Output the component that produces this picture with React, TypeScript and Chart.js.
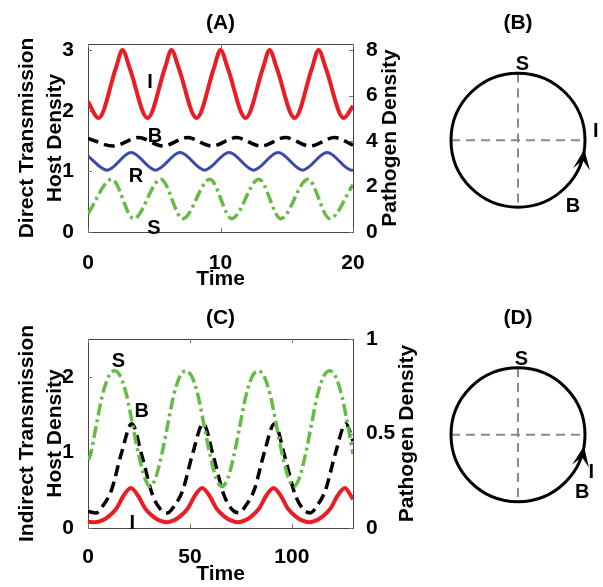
import React, { useEffect, useRef } from 'react';
import { Chart, registerables } from 'chart.js';

Chart.register(...registerables);

const FONT = "'Liberation Sans', Arial, Helvetica, sans-serif";

// ---------- Panel A: direct transmission ----------
const A_TIME_TICKS = [0, 10, 20];
const A_HOST_TICKS = [0, 1, 2, 3];
const A_PATHOGEN_TICKS = [0, 2, 4, 6, 8];

const A_I: [number, number][] = [
  [0, 2.15], [0.8, 1.88], [2.1, 2.7], [2.6, 3.0], [3.15, 2.7], [4.5, 1.88],
  [5.8, 2.7], [6.3, 3.0], [6.85, 2.7], [8.2, 1.88], [9.5, 2.7], [10.0, 3.0],
  [10.55, 2.7], [11.9, 1.88], [13.2, 2.7], [13.7, 3.0], [14.25, 2.7], [15.6, 1.88],
  [16.9, 2.7], [17.4, 3.0], [17.95, 2.7], [19.3, 1.88], [20, 2.08],
];
const A_R: [number, number][] = [
  [0, 1.25], [1.45, 1.02], [3.25, 1.31], [5.1, 1.02], [6.95, 1.31], [8.8, 1.02],
  [10.65, 1.31], [12.5, 1.02], [14.35, 1.31], [16.2, 1.02], [18.05, 1.31], [19.9, 1.02], [20, 1.02],
];
const A_S: [number, number][] = [
  [0, 0.3], [1.8, 0.87], [3.45, 0.22], [5.5, 0.87], [7.15, 0.22], [9.2, 0.87],
  [10.85, 0.22], [12.9, 0.87], [14.55, 0.22], [16.6, 0.87], [18.25, 0.22], [20, 0.78],
];
// pathogen density (right axis)
const A_B: [number, number][] = [
  [0, 4.12], [1.9, 3.78], [3.8, 4.15], [5.65, 3.78], [7.5, 4.15], [9.35, 3.78],
  [11.2, 4.15], [13.05, 3.78], [14.9, 4.15], [16.75, 3.78], [18.6, 4.15], [20, 3.82],
];
const A_LABELS = [
  { text: 'I', x: 4.68, y: 2.46 },
  { text: 'B', x: 5.06, y: 1.57 },
  { text: 'R', x: 3.62, y: 0.91 },
  { text: 'S', x: 4.98, y: 0.05 },
];

// ---------- Panel C: indirect transmission ----------
const C_TIME_TICKS = [0, 50, 100];
const C_HOST_TICKS = [0, 1, 2];
const C_PATHOGEN_TICKS = [0, 0.5, 1];

const C_S: [number, number][] = [
  [0, 0.9], [1, 0.95], [4, 1.35], [7, 1.75], [10, 2.0], [13, 2.08], [16, 2.0], [19, 1.75],
  [22, 1.35], [25, 0.95], [28, 0.65], [30.5, 0.55], [33, 0.65], [36, 0.95], [39, 1.35],
  [42, 1.75], [45, 2.0], [48, 2.08], [51, 2.0], [54, 1.75], [57, 1.35], [60, 0.95],
  [63, 0.65], [65.75, 0.55], [68.5, 0.65], [71.5, 0.95], [74.5, 1.35], [77.5, 1.75],
  [80.5, 2.0], [83.5, 2.08], [86.5, 2.0], [89.5, 1.75], [92.5, 1.35], [95.5, 0.95],
  [98.5, 0.65], [101, 0.55], [103.5, 0.65], [106.5, 0.95], [109.5, 1.35], [112.5, 1.75],
  [115.5, 2.0], [118.5, 2.08], [121.5, 2.0], [124.5, 1.75], [127.5, 1.35], [130, 0.98],
];
const C_I: [number, number][] = [
  [0, 0.08], [3.5, 0.075], [7, 0.1], [10, 0.15], [14, 0.26], [17.5, 0.43], [21, 0.53],
  [24.5, 0.43], [28, 0.26], [32, 0.15], [35, 0.1], [38.5, 0.075], [42, 0.1], [45, 0.15],
  [49, 0.26], [52.5, 0.43], [56, 0.53], [59.5, 0.43], [63, 0.26], [67, 0.15], [70, 0.1],
  [73.5, 0.075], [77, 0.1], [80, 0.15], [84, 0.26], [87.5, 0.43], [91, 0.53], [94.5, 0.43],
  [98, 0.26], [102, 0.15], [105, 0.1], [108.5, 0.075], [112, 0.1], [115, 0.15], [119, 0.26],
  [122.5, 0.43], [126, 0.53], [130, 0.38],
];
// pathogen density (right axis)
const C_B: [number, number][] = [
  [0, 0.088], [4, 0.08], [7.5, 0.12], [11.5, 0.2], [16.5, 0.4], [21.5, 0.552], [26.5, 0.38],
  [31.5, 0.18], [35.5, 0.1], [39, 0.08], [42.5, 0.12], [46.5, 0.2], [51.5, 0.4], [56.5, 0.552],
  [61.5, 0.38], [66.5, 0.18], [70.5, 0.1], [74, 0.08], [77.5, 0.12], [81.5, 0.2], [86.5, 0.4],
  [91.5, 0.552], [96.5, 0.38], [101.5, 0.18], [105.5, 0.1], [109, 0.08], [112.5, 0.12],
  [116.5, 0.2], [121.5, 0.4], [126.5, 0.552], [130, 0.46],
];
const C_LABELS = [
  { text: 'S', x: 14.9, y: 2.2 },
  { text: 'B', x: 26.3, y: 1.54 },
  { text: 'I', x: 21.7, y: 0.06 },
];

// ---------- Panels B and D: phase diagrams ----------
const CROSS_H: [number, number][] = [[-1, 0], [1, 0]];
const CROSS_V: [number, number][] = [[0, 1], [0, -1]];
const B_LABELS = [
  { text: 'S', x: 0.066, y: 1.13 },
  { text: 'I', x: 1.16, y: 0.13 },
  { text: 'B', x: 0.82, y: -1.0 },
];
const D_LABELS = [
  { text: 'S', x: 0.05, y: 1.13 },
  { text: 'I', x: 1.095, y: -0.56 },
  { text: 'B', x: 0.96, y: -0.87 },
];

const RED = '#ec1c24';
const BLUE = '#3a4aa6';
const GREEN = '#66bb44';
const BLACK = '#000000';

const pts = (a: [number, number][]) => a.map(([x, y]) => ({ x, y }));

function panelDecor(cfg: any) {
  return {
    id: 'panelDecor',
    afterDraw(chart: any) {
      const { ctx, chartArea: a, scales } = chart;
      ctx.save();
      ctx.strokeStyle = '#444';
      ctx.lineWidth = 1;
      ctx.beginPath();
      ctx.moveTo(a.left, a.top + 0.5);
      ctx.lineTo(a.right, a.top + 0.5);
      ctx.stroke();
      ctx.strokeStyle = '#777';
      Object.values(scales).forEach((s: any) => {
        s.ticks.forEach((t: any) => {
          const p = Math.round(s.getPixelForValue(t.value)) + 0.5;
          ctx.beginPath();
          if (s.axis === 'x') {
            ctx.moveTo(p, a.bottom);
            ctx.lineTo(p, a.bottom - 4);
            ctx.moveTo(p, a.top);
            ctx.lineTo(p, a.top + 4);
          } else if (s.position === 'left') {
            ctx.moveTo(a.left, p);
            ctx.lineTo(a.left + 4, p);
          } else {
            ctx.moveTo(a.right, p);
            ctx.lineTo(a.right - 4, p);
          }
          ctx.stroke();
        });
      });
      // right axis title, reading upward
      ctx.fillStyle = '#000';
      ctx.font = `bold 21px ${FONT}`;
      ctx.textAlign = 'center';
      ctx.textBaseline = 'middle';
      ctx.save();
      ctx.translate(cfg.rightTitleX, (a.top + a.bottom) / 2);
      ctx.rotate(-Math.PI / 2);
      ctx.fillText(cfg.rightTitle, 0, 0);
      ctx.restore();
      // curve labels
      ctx.font = `bold 20px ${FONT}`;
      cfg.labels.forEach((l: any) => {
        ctx.fillText(l.text, scales.x.getPixelForValue(l.x), scales.yHost.getPixelForValue(l.y));
      });
      ctx.restore();
    },
  };
}

function lineConfig(p: any) {
  const tickFont = { size: 21, weight: 'bold' as const, family: FONT };
  const fixTicks = (arr: number[]) => (s: any) => {
    s.ticks = arr.map((v) => ({ value: v }));
  };
  const mk = (label: string, data: [number, number][], color: string, width: number, dash: number[], axis: string) => ({
    label,
    data: pts(data),
    borderColor: color,
    borderWidth: width,
    borderDash: dash,
    pointRadius: 0,
    fill: false,
    cubicInterpolationMode: 'monotone' as const,
    yAxisID: axis,
  });
  return {
    type: 'line' as const,
    data: { datasets: p.series.map((s: any) => mk(s.label, s.data, s.color, s.width, s.dash, s.axis)) },
    options: {
      responsive: false,
      animation: false as const,
      events: [],
      layout: { padding: 0 },
      plugins: {
        legend: { display: false },
        tooltip: { enabled: false },
        title: {
          display: true,
          text: p.title,
          fullSize: false,
          color: '#000',
          font: { size: 21, weight: 'bold' as const, family: FONT, lineHeight: 1.2 },
          padding: { top: p.titleTop, bottom: p.titleBottom },
        },
      },
      scales: {
        x: {
          type: 'linear' as const,
          min: 0,
          max: p.xMax,
          afterBuildTicks: fixTicks(p.xTicks),
          afterFit: (s: any) => { s.height = p.xHeight; },
          grid: { display: false },
          border: { display: true, color: '#444', width: 1 },
          ticks: { font: tickFont, color: '#000', padding: p.xTickPad, maxRotation: 0, autoSkip: false, callback: (v: any) => String(v) },
          title: {
            display: true,
            text: 'Time',
            color: '#000',
            font: { size: 21, weight: 'bold' as const, family: FONT, lineHeight: 1 },
            padding: { top: 0, bottom: p.timePad },
          },
        },
        yHost: {
          type: 'linear' as const,
          position: 'left' as const,
          min: 0,
          max: p.hostMax,
          afterBuildTicks: fixTicks(p.hostTicks),
          afterFit: (s: any) => { s.width = 88; },
          grid: { display: false },
          border: { display: true, color: '#444', width: 1 },
          ticks: { font: tickFont, color: '#000', padding: 6, callback: (v: any) => String(v) },
          title: {
            display: true,
            text: p.hostTitle,
            color: '#000',
            font: { size: 21, weight: 'bold' as const, family: FONT, lineHeight: 1.33 },
            padding: { top: 13, bottom: 0 },
          },
        },
        yPath: {
          type: 'linear' as const,
          position: 'right' as const,
          min: 0,
          max: p.pathMax,
          afterBuildTicks: fixTicks(p.pathTicks),
          afterFit: (s: any) => { s.width = p.rightWidth; },
          grid: { display: false },
          border: { display: true, color: '#444', width: 1 },
          ticks: { font: tickFont, color: '#000', padding: 5, callback: (v: any) => String(v) },
          title: { display: false },
        },
      },
    },
    plugins: [panelDecor({ rightTitle: 'Pathogen Density', rightTitleX: p.rightTitleX, labels: p.labels })],
  };
}

function cycleDecor(cfg: any) {
  return {
    id: 'cycleDecor',
    afterDatasetsDraw(chart: any) {
      const { ctx, scales: { x, y } } = chart;
      const cx = x.getPixelForValue(0);
      const cy = y.getPixelForValue(0);
      const r = x.getPixelForValue(1) - cx;
      ctx.save();
      ctx.strokeStyle = '#000';
      ctx.lineWidth = 3;
      ctx.beginPath();
      ctx.arc(cx, cy, r, 0, Math.PI * 2);
      ctx.stroke();
      // arrow head (counter-clockwise tangent)
      const th = (cfg.arrowDeg * Math.PI) / 180;
      const tx = cx + r * Math.cos(th);
      const ty = cy - r * Math.sin(th);
      const dx = -Math.sin(th);
      const dy = -Math.cos(th);
      const nx = -dy;
      const ny = dx;
      const L = 20;
      const W = 8.5;
      ctx.fillStyle = '#000';
      ctx.beginPath();
      ctx.moveTo(tx, ty);
      ctx.lineTo(tx - dx * L + nx * W, ty - dy * L + ny * W);
      ctx.lineTo(tx - dx * L * 0.55, ty - dy * L * 0.55);
      ctx.lineTo(tx - dx * L - nx * W, ty - dy * L - ny * W);
      ctx.closePath();
      ctx.fill();
      ctx.font = `bold 20px ${FONT}`;
      ctx.textAlign = 'center';
      ctx.textBaseline = 'middle';
      cfg.labels.forEach((l: any) => {
        ctx.fillText(l.text, x.getPixelForValue(l.x), y.getPixelForValue(l.y));
      });
      ctx.restore();
    },
  };
}

function cycleConfig(p: any) {
  const cross = (d: [number, number][]) => ({
    data: pts(d),
    showLine: true,
    borderColor: '#8a8a8a',
    borderWidth: 2,
    borderDash: [9, 6],
    pointRadius: 0,
  });
  return {
    type: 'scatter' as const,
    data: { datasets: [cross(CROSS_H), cross(CROSS_V)] },
    options: {
      responsive: false,
      animation: false as const,
      events: [],
      layout: { padding: 0, autoPadding: false },
      plugins: {
        legend: { display: false },
        tooltip: { enabled: false },
        title: {
          display: true,
          text: p.title,
          color: '#000',
          font: { size: 21, weight: 'bold' as const, family: FONT, lineHeight: 1.2 },
          padding: { top: p.titleTop, bottom: 8 },
        },
      },
      scales: {
        x: { type: 'linear' as const, display: false, min: -p.xHalf, max: p.xHalf },
        y: { type: 'linear' as const, display: false, min: p.yMin, max: p.yMax },
      },
    },
    plugins: [cycleDecor({ arrowDeg: p.arrowDeg, labels: p.labels })],
  };
}

function ChartCanvas({ make, left, top, width, height }: any) {
  const ref = useRef<HTMLCanvasElement>(null);
  useEffect(() => {
    const chart = new Chart(ref.current as HTMLCanvasElement, make());
    return () => chart.destroy();
  }, []);
  return (
    <canvas
      ref={ref}
      width={width}
      height={height}
      style={{ position: 'absolute', left, top, width, height }}
    />
  );
}

export default function App() {
  const makeA = () =>
    lineConfig({
      title: '(A)', titleTop: 10.4, titleBottom: 8.4,
      xMax: 20, xTicks: A_TIME_TICKS, xHeight: 58, xTickPad: 10.4, timePad: 0,
      hostMax: 3.1, hostTicks: A_HOST_TICKS,
      hostTitle: ['Direct Transmission', 'Host Density'],
      pathMax: (3.1 * 8) / 3, pathTicks: A_PATHOGEN_TICKS,
      rightWidth: 67, rightTitleX: 390,
      labels: A_LABELS,
      series: [
        { label: 'I', data: A_I, color: RED, width: 4, dash: [], axis: 'yHost' },
        { label: 'B', data: A_B, color: BLACK, width: 3.5, dash: [11, 6], axis: 'yPath' },
        { label: 'R', data: A_R, color: BLUE, width: 3, dash: [], axis: 'yHost' },
        { label: 'S', data: A_S, color: GREEN, width: 3.5, dash: [12, 4, 3, 4], axis: 'yHost' },
      ],
    });
  const makeC = () =>
    lineConfig({
      title: '(C)', titleTop: 15.4, titleBottom: 8.4,
      xMax: 130, xTicks: C_TIME_TICKS, xHeight: 59, xTickPad: 8.4, timePad: 2.5,
      hostMax: 2.5, hostTicks: C_HOST_TICKS,
      hostTitle: ['Indirect Transmission', 'Host Density'],
      pathMax: 1, pathTicks: C_PATHOGEN_TICKS,
      rightWidth: 77, rightTitleX: 407,
      labels: C_LABELS,
      series: [
        { label: 'S', data: C_S, color: GREEN, width: 3.5, dash: [12, 4, 3, 4], axis: 'yHost' },
        { label: 'B', data: C_B, color: BLACK, width: 3.5, dash: [11, 6], axis: 'yPath' },
        { label: 'I', data: C_I, color: RED, width: 4, dash: [], axis: 'yHost' },
      ],
    });
  const makeB = () =>
    cycleConfig({ title: '(B)', titleTop: 10.4, xHalf: 85 / 67, yMax: 97.1 / 67, yMin: -(290 - 139.3) / 67, arrowDeg: -8, labels: B_LABELS });
  const makeD = () =>
    cycleConfig({ title: '(D)', titleTop: 15.4, xHalf: 85 / 67, yMax: 96.6 / 67, yMin: -(297 - 144) / 67, arrowDeg: -10, labels: D_LABELS });

  return (
    <div style={{ position: 'absolute', left: 0, top: 0, width: 603, height: 587, background: '#fff' }}>
      <ChartCanvas make={makeA} left={0} top={0} width={420} height={290} />
      <ChartCanvas make={makeC} left={0} top={290} width={430} height={297} />
      <ChartCanvas make={makeB} left={433} top={0} width={170} height={290} />
      <ChartCanvas make={makeD} left={433} top={290} width={170} height={297} />
    </div>
  );
}
